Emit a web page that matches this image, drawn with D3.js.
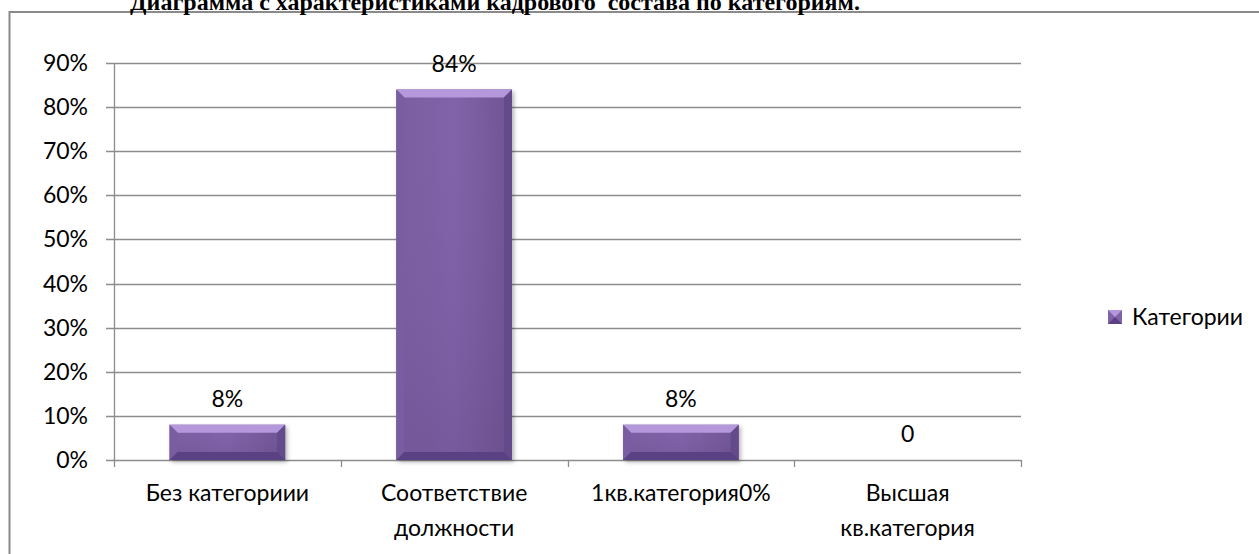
<!DOCTYPE html>
<html><head><meta charset="utf-8">
<script src="https://cdn.jsdelivr.net/npm/d3@7"></script>
<style>body{margin:0;background:#fff}svg{display:block}</style>
</head><body>
<script>
const categories = ["Без категориии", "Соответствие\nдолжности", "1кв.категория0%", "Высшая\nкв.категория"];
const values = [0.08, 0.84, 0.08, 0];
const valueLabels = ["8%", "84%", "8%", "0"];
const yTicks = [0, 0.1, 0.2, 0.3, 0.4, 0.5, 0.6, 0.7, 0.8, 0.9];
const seriesName = "Категории";
const title = "Диаграмма с характеристиками кадрового  состава по категориям.";

const W = 1259, H = 554;
const svg = d3.select("body").append("svg").attr("width", W).attr("height", H);
const font = "Lato, 'Open Sans', sans-serif";
const fs = 23;

const defs = svg.append("defs");
const g1 = defs.append("linearGradient").attr("id", "barg").attr("x1", 0).attr("x2", 1).attr("y1", 0).attr("y2", 0);
g1.append("stop").attr("offset", "0%").attr("stop-color", "#7a5ea0");
g1.append("stop").attr("offset", "50%").attr("stop-color", "#8063a9");
g1.append("stop").attr("offset", "100%").attr("stop-color", "#6f5492");
const g2 = defs.append("linearGradient").attr("id", "barv").attr("x1", 0).attr("x2", 0).attr("y1", 0).attr("y2", 1);
g2.append("stop").attr("offset", "0%").attr("stop-color", "#8466ad").attr("stop-opacity", 0);
g2.append("stop").attr("offset", "100%").attr("stop-color", "#5e4480").attr("stop-opacity", 0.3);
const f = defs.append("filter").attr("id", "sh").attr("x", "-20%").attr("y", "-20%").attr("width", "140%").attr("height", "140%");
f.append("feDropShadow").attr("dx", 2).attr("dy", 2).attr("stdDeviation", 2).attr("flood-color", "#000").attr("flood-opacity", 0.3);

// frame
svg.append("path").attr("d", `M9.5,${H} L9.5,12 L${W},12`).attr("fill", "none").attr("stroke", "#8a8a8a").attr("stroke-width", 2);

// title (partly cut at the top, as in the reference)
svg.append("text").attr("x", 495).attr("y", 10).attr("text-anchor", "middle")
  .style("white-space", "pre")
  .attr("font-family", "'Liberation Serif', 'Times New Roman', serif").attr("font-weight", "bold").attr("font-size", 24)
  .text(title);

const x = d3.scaleBand().domain(d3.range(categories.length)).range([114, 1021]).paddingInner(0.49).paddingOuter(0.245);
const xb = d3.scaleBand().domain(d3.range(categories.length)).range([114, 1021]);
const y = d3.scaleLinear().domain([0, 0.9]).range([460, 63]);

// gridlines
svg.append("g").selectAll("line").data(yTicks).join("line")
  .attr("x1", 106).attr("x2", 1021).attr("y1", d => Math.round(y(d)) + 0.5).attr("y2", d => Math.round(y(d)) + 0.5)
  .attr("stroke", "#8c8c8c").attr("stroke-width", 1.3);

// y axis line
svg.append("line").attr("x1", 114.5).attr("x2", 114.5).attr("y1", y(0.9)).attr("y2", y(0)).attr("stroke", "#8c8c8c").attr("stroke-width", 1.3);

// x ticks
svg.append("g").selectAll("line").data(d3.range(categories.length + 1)).join("line")
  .attr("x1", i => Math.round(i < categories.length ? xb(i) : xb.range()[1]) + 0.5)
  .attr("x2", i => Math.round(i < categories.length ? xb(i) : xb.range()[1]) + 0.5)
  .attr("y1", y(0)).attr("y2", y(0) + 7).attr("stroke", "#8c8c8c").attr("stroke-width", 1.3);

// y labels
svg.append("g").selectAll("text").data(yTicks).join("text")
  .attr("x", 88).attr("y", d => y(d)).attr("dy", "0.35em").attr("text-anchor", "end")
  .attr("font-family", font).attr("font-size", fs).attr("fill", "#000")
  .text(d => d3.format(".0%")(d));

// bars
const bars = svg.append("g").selectAll("g").data(values).join("g");
bars.each(function(v, i) {
  if (v <= 0) return;
  const g = d3.select(this);
  const x0 = x(i), w = x.bandwidth(), y0 = y(v), h = y(0) - y(v);
  const b = Math.min(8, h / 3);
  g.append("rect").attr("x", x0).attr("y", y0).attr("width", w).attr("height", h).attr("fill", "url(#barg)").attr("filter", "url(#sh)");
  g.append("rect").attr("x", x0).attr("y", y0).attr("width", w).attr("height", h).attr("fill", "url(#barv)");
  g.append("polygon").attr("points", `${x0},${y0} ${x0 + w},${y0} ${x0 + w - b},${y0 + b} ${x0 + b},${y0 + b}`).attr("fill", "#b597dc");
  g.append("polygon").attr("points", `${x0},${y0} ${x0 + b},${y0 + b} ${x0 + b},${y0 + h - b} ${x0},${y0 + h}`).attr("fill", "#785da3");
  g.append("polygon").attr("points", `${x0 + w},${y0} ${x0 + w - b},${y0 + b} ${x0 + w - b},${y0 + h - b} ${x0 + w},${y0 + h}`).attr("fill", "#634a8b");
  g.append("polygon").attr("points", `${x0},${y0 + h} ${x0 + b},${y0 + h - b} ${x0 + w - b},${y0 + h - b} ${x0 + w},${y0 + h}`).attr("fill", "#5a4183");
});

// value labels
svg.append("g").selectAll("text").data(values).join("text")
  .attr("x", (d, i) => x(i) + x.bandwidth() / 2)
  .attr("y", d => y(d) - 26).attr("dy", "0.35em").attr("text-anchor", "middle")
  .attr("font-family", font).attr("font-size", fs)
  .text((d, i) => valueLabels[i]);

// category labels
const cl = svg.append("g").selectAll("text").data(categories).join("text")
  .attr("x", (d, i) => xb(i) + xb.bandwidth() / 2).attr("y", 493).attr("text-anchor", "middle")
  .attr("font-family", font).attr("font-size", fs);
cl.each(function(d) {
  const t = d3.select(this);
  d.split("\n").forEach((ln, k) => {
    t.append("tspan").attr("x", t.attr("x")).attr("y", 493 + k * 35).attr("dy", "0.35em").text(ln);
  });
});

// legend
const lg = svg.append("g");
lg.append("rect").attr("x", 1108).attr("y", 310).attr("width", 14).attr("height", 14).attr("fill", "#7f62a8");
lg.append("polygon").attr("points", "1108,310 1122,310 1115,317").attr("fill", "#b597dc");
lg.append("polygon").attr("points", "1108,324 1122,324 1115,317").attr("fill", "#5a4183");
lg.append("text").attr("x", 1132).attr("y", 317).attr("dy", "0.35em").attr("font-family", font).attr("font-size", fs).text(seriesName);
</script>
</body></html>
